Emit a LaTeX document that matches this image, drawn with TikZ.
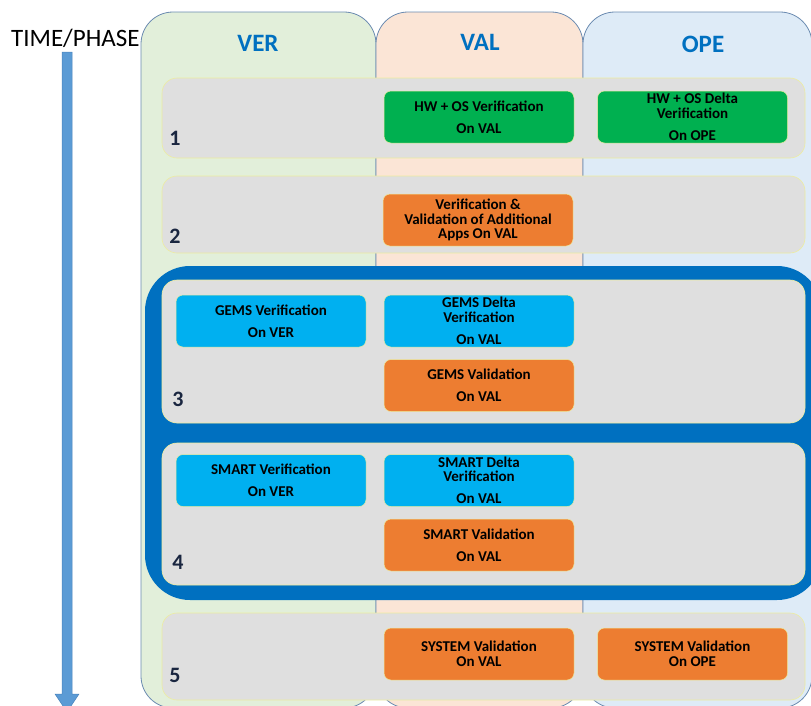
\documentclass[tikz,border=0pt]{standalone}
\usepackage{fontspec}
\setmainfont{Carlito}
\definecolor{vergreen}{HTML}{E2EFDA}
\definecolor{valpeach}{HTML}{FBE5D6}
\definecolor{opeblue}{HTML}{DEEBF7}
\definecolor{colborder}{HTML}{6A8AB0}
\definecolor{headblue}{HTML}{0070C0}
\definecolor{frameblue}{HTML}{0070C0}
\definecolor{rowgray}{HTML}{DFDFDF}
\definecolor{rowedge}{HTML}{EDEDA0}
\definecolor{boxgreen}{HTML}{00B050}
\definecolor{boxorange}{HTML}{ED7D31}
\definecolor{boxcyan}{HTML}{00B0F0}
\definecolor{numnavy}{HTML}{1A2640}
\definecolor{arrowblue}{HTML}{5B9BD5}
\definecolor{arrowedge}{HTML}{4A84BC}
\tikzset{
  column/.style={draw=colborder, line width=0.8pt, rounded corners=32pt},
  rowband/.style={fill=rowgray, draw=rowedge, line width=0.6pt, rounded corners=15pt},
  task/.style={draw=rowedge, line width=0.5pt, rounded corners=7pt, minimum width=190pt, minimum height=52pt,
    inner sep=0pt, align=center, font=\bfseries\fontsize{15}{14.5}\selectfont, text=black},
  greenbox/.style={task, fill=boxgreen},
  orangebox/.style={task, fill=boxorange},
  cyanbox/.style={task, fill=boxcyan},
  colhead/.style={font=\bfseries\fontsize{25}{28}\selectfont, text=headblue},
  phasenum/.style={font=\bfseries\fontsize{22}{24}\selectfont, text=numnavy},
}
\begin{document}
\begin{tikzpicture}[x=1pt,y=-1pt]
\useasboundingbox (0,0) rectangle (811,705);
% columns
\draw[column, fill=vergreen] (141,12) rectangle (376,708);
\draw[column, fill=valpeach] (376,12) rectangle (583,708);
\draw[column, fill=opeblue] (583,12) rectangle (812,708);
\node[colhead] (hver) at (258,43) {VER};
\node[colhead] (hval) at (480,42) {VAL};
\node[colhead] (hope) at (703,44) {OPE};
% time arrow
\node[font=\fontsize{25}{28}\selectfont, anchor=west, inner sep=0pt] (time) at (11,38) {TIME/PHASE};
\filldraw[fill=arrowblue, draw=arrowedge, line width=0.5pt]
  (62,52) -- (72,52) -- (72,694) -- (79,694) -- (67,712) -- (55,694) -- (62,694) -- cycle;
% rows 1, 2
\draw[rowband] (162,78) rectangle (805,158);
\draw[rowband] (162,176) rectangle (805,253);
% blue frame
\fill[frameblue, rounded corners=45pt] (145,266) rectangle (822,600);
\draw[rowband] (162,280) rectangle (805,423);
\draw[rowband] (162,443) rectangle (805,585);
% row 5
\draw[rowband] (162,613) rectangle (805,700);
% numbers
\node[phasenum] (n1) at (175,138) {1};
\node[phasenum] (n2) at (175,236) {2};
\node[phasenum] (n3) at (178,399) {3};
\node[phasenum] (n4) at (178,562) {4};
\node[phasenum] (n5) at (175,675) {5};
% tasks
\node[greenbox] (hwval) at (479,117) {HW + OS Verification\\[7.5pt]On VAL};
\node[greenbox] (hwope) at (692.5,117) {HW + OS Delta\\Verification\\[7.5pt]On OPE};
\node[orangebox] (vv) at (478,220) {Verification \&\\Validation of Additional\\Apps On VAL};
\node[cyanbox] (gemsver) at (271,321) {GEMS Verification\\[7.5pt]On VER};
\node[cyanbox] (gemsdelta) at (479,321) {GEMS Delta\\Verification\\[7.5pt]On VAL};
\node[orangebox] (gemsval) at (479,385.5) {GEMS Validation\\[7.5pt]On VAL};
\node[cyanbox] (smartver) at (271,480.5) {SMART Verification\\[7.5pt]On VER};
\node[cyanbox] (smartdelta) at (479,480.5) {SMART Delta\\Verification\\[7.5pt]On VAL};
\node[orangebox] (smartval) at (479,545) {SMART Validation\\[7.5pt]On VAL};
\node[orangebox] (sysval) at (479,654) {SYSTEM Validation\\On VAL};
\node[orangebox] (sysope) at (692.5,654) {SYSTEM Validation\\On OPE};
\end{tikzpicture}
\end{document}
